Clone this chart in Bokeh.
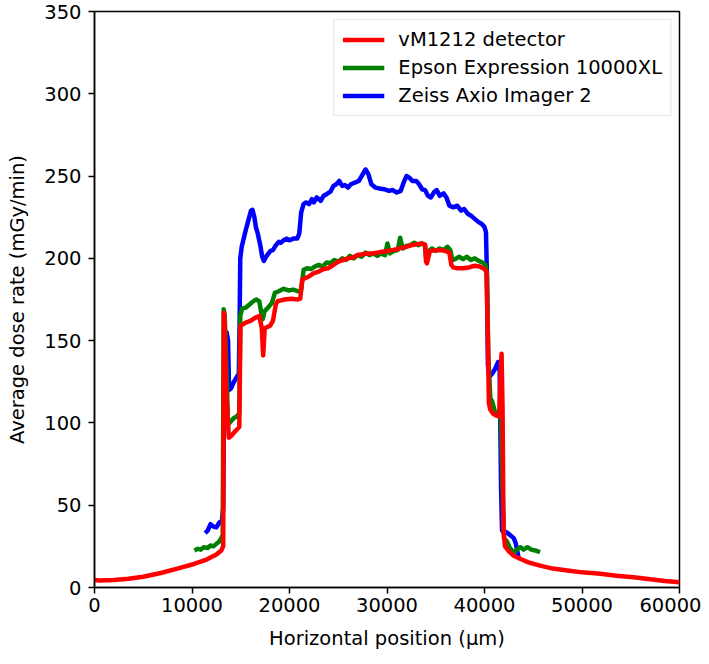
from bokeh.plotting import figure
from bokeh.models import Range1d, FixedTicker, Legend, LegendItem
from bokeh.embed import file_html
from bokeh.resources import INLINE

# ---- data ----
red_x = [0, 500, 2000, 3500, 5000, 6800, 8500, 10200, 11500, 12500, 13000, 13200, 13270, 13320,
         13500, 13780, 14000, 14300, 14600, 14850, 14970, 15500, 16000, 16500, 16900, 17150, 17300,
         17450, 17600, 18000, 18300, 18600, 18800, 19500, 20200, 20800, 21100, 21300, 21600, 22000,
         22500, 23000, 23500, 24000, 24500, 25000, 25500, 26000, 26500, 27000, 27500, 28000, 28500,
         29000, 29500, 30000, 30500, 31000, 31500, 32000, 32500, 33000, 33500, 33900, 34000, 34100,
         34400, 35000, 35500, 36000, 36400, 36600, 36800, 37200, 37800, 38400, 39000, 39500, 40000,
         40200, 40350, 40450, 40600, 40900, 41200, 41500, 41650, 41750, 41850, 41950, 42100, 42500,
         43000, 43700, 44500, 45700, 47000, 48500, 50000, 51900, 53500, 55300, 57000, 58500, 60000]
red_y = [4.5, 4.3, 4.6, 5.3, 6.5, 8.8, 11.5, 14.3, 17, 20, 22.5, 25, 167, 165,
         120, 91, 92, 94, 96, 97.5, 159, 161, 162, 164, 165, 158, 141,
         157, 158, 159, 162, 172, 174, 175, 175.5, 175, 175.5, 187, 188, 189,
         191, 192, 193.5, 194, 196, 198, 199, 200, 200.5, 202, 202.5, 203, 203,
         203.5, 204, 204.5, 205, 205.5, 206.5, 207, 208, 208.5, 209, 208.5, 198, 197,
         204.5, 205, 205, 204.5, 203.5, 196, 194.5, 194, 194, 194.5, 195.5, 195, 193.5,
         192, 150, 112, 108, 105.5, 104.5, 104, 130, 142, 110, 35, 25, 22,
         19.3, 17.3, 15.3, 13.3, 11.5, 10.3, 9.2, 8.3, 7.2, 6.2, 5, 4, 3.2]

green_x = [10250, 10600, 10900, 11200, 11600, 11900, 12200, 12500, 12800, 13000, 13150, 13250, 13350,
           13550, 13700, 14000, 14300, 14600, 14850, 14950, 15140, 15500, 15900, 16300, 16600, 16900,
           17100, 17250, 17450, 17800, 18200, 18500, 18900, 19400, 19900, 20400, 20900, 21200, 21450,
           21800, 22200, 22600, 23000, 23400, 23800, 24200, 24600, 25000, 25400, 25800, 26200, 26600,
           27000, 27400, 27800, 28200, 28600, 29000, 29400, 29800, 30050, 30300, 30700, 31100, 31350,
           31600, 32000, 32400, 32800, 33200, 33600, 33900, 34000, 34200, 34600, 35000, 35400, 35800,
           36200, 36500, 36700, 37000, 37400, 37800, 38200, 38600, 39000, 39400, 39800, 40100, 40250,
           40400, 40600, 40800, 41100, 41400, 41650, 41850, 42000, 42300, 42600, 43000, 43300, 43700,
           44000, 44400, 44800, 45200, 45700]
green_y = [22.5, 23.5, 23, 24.5, 24, 25.5, 25, 26.5, 28, 30, 32, 169, 166,
           130, 99, 101, 103, 104, 106, 165, 169.5, 170, 172, 174, 175, 174,
           167, 163, 168, 170, 173, 179, 180, 181.5, 180.5, 181, 180, 181, 193,
           194, 193.5, 195, 196, 195, 197.5, 197, 199, 198, 200, 199, 201.5, 200,
           202, 201, 203.5, 202, 203, 201.5, 203, 202, 209, 203, 204.5, 205, 212.5,
           206, 207.5, 208, 209.5, 208, 209, 208, 201, 204, 206, 204.5, 206, 205,
           207, 205, 199, 199.5, 201, 199.5, 201, 199, 200, 198.5, 197.5, 196, 190,
           140, 115, 113, 106, 104.5, 110, 60, 30, 28, 24, 21, 23, 24.5,
           23, 24.5, 23, 22.5, 21.5]

blue_x = [11350, 11600, 11900, 12200, 12500, 12800, 13050, 13200, 13350, 13550, 13700, 13800, 14000,
          14300, 14600, 14800, 14880, 14950, 15100, 15300, 15550, 15820, 16050, 16200, 16400, 16550,
          16750, 17000, 17200, 17370, 17600, 17850, 18050, 18300, 18600, 18900, 19100, 19400, 19700,
          20000, 20400, 20790, 21000, 21200, 21440, 21700, 22000, 22300, 22500, 22800, 23200, 23500,
          23800, 24200, 24500, 24800, 25100, 25400, 25700, 26000, 26300, 26700, 27100, 27400, 27800,
          28100, 28400, 28800, 29200, 29700, 30200, 30600, 31000, 31400, 31700, 32000, 32300, 32600,
          33000, 33300, 33600, 33900, 34200, 34500, 34800, 35100, 35400, 35800, 36100, 36400, 36800,
          37200, 37600, 37900, 38300, 38600, 39000, 39400, 39700, 40000, 40150, 40250, 40350, 40500,
          40800, 41100, 41400, 41550, 41700, 41800, 42100, 42400, 42700, 43000, 43200, 43500]
blue_y = [33, 34.5, 38.5, 37, 36.5, 39.5, 40, 48, 150, 155, 150, 120, 121,
          125, 128, 130, 160, 200, 207, 212, 218, 224, 229, 229.5, 225, 219,
          215, 208, 201, 198.5, 201, 203, 204.5, 205, 208, 210, 209.5, 211, 212,
          211, 212, 212, 215, 228, 233, 234, 233, 236, 234, 237, 235, 238,
          239, 240.5, 244, 245, 247, 244, 244.5, 243, 245, 246, 247, 250, 254,
          251, 245, 243, 242.5, 242, 241, 241.5, 240, 241, 246, 250, 249, 247,
          247, 245, 242, 241.5, 238, 237, 240, 241.5, 238, 239.5, 237, 232, 231,
          232, 229, 230, 227, 226, 224, 222, 221, 219, 216, 190, 135, 128,
          130, 133, 137, 135, 60, 34.5, 34, 33, 31.5, 30, 27, 18]

x_ticks = [0, 10000, 20000, 30000, 40000, 50000, 60000]
y_ticks = [0, 50, 100, 150, 200, 250, 300, 350]

series_labels = ["vM1212 detector", "Epson Expression 10000XL", "Zeiss Axio Imager 2"]

FONT = "DejaVu Sans"
FS = "19.5px"

p = figure(width=701, height=656, x_range=Range1d(0, 60000), y_range=Range1d(0, 350),
           output_backend="svg", toolbar_location=None,
           min_border_left=94, min_border_right=22, min_border_top=11, min_border_bottom=69)

rb = p.line(blue_x, blue_y, line_color="#0000ff", line_width=4.5, line_join="round")
rg = p.line(green_x, green_y, line_color="#008000", line_width=4.5, line_join="round")
rr = p.line(red_x, red_y, line_color="#ff0000", line_width=4.5, line_join="round")

p.xgrid.visible = False
p.ygrid.visible = False
p.outline_line_color = "black"
p.outline_line_width = 1.5
p.outline_line_alpha = 1.0
p.background_fill_color = "white"
p.border_fill_color = "white"

p.xaxis.ticker = FixedTicker(ticks=x_ticks)
p.yaxis.ticker = FixedTicker(ticks=y_ticks)
p.xaxis.axis_label = "Horizontal position (μm)"
p.yaxis.axis_label = "Average dose rate (mGy/min)"

for ax in (p.xaxis, p.yaxis):
    ax.axis_line_width = 1.5
    ax.axis_line_color = "black"
    ax.major_tick_line_width = 1.5
    ax.major_tick_out = 6
    ax.major_tick_in = 0
    ax.minor_tick_line_color = None
    ax.major_label_text_font = FONT
    ax.major_label_text_font_size = FS
    ax.major_label_text_color = "black"
    ax.axis_label_text_font = FONT
    ax.axis_label_text_font_size = FS
    ax.axis_label_text_font_style = "normal"
    ax.axis_label_text_color = "black"
p.xaxis.major_label_standoff = 4
p.yaxis.major_label_standoff = 7
p.xaxis.axis_label_standoff = 12
p.yaxis.axis_label_standoff = 12

legend = Legend(items=[LegendItem(label=series_labels[0], renderers=[rr]),
                       LegendItem(label=series_labels[1], renderers=[rg]),
                       LegendItem(label=series_labels[2], renderers=[rb])],
                location="top_right")
legend.label_text_font = FONT
legend.label_text_font_size = FS
legend.label_text_color = "black"
legend.glyph_width = 42
legend.glyph_height = 21
legend.label_height = 21
legend.label_standoff = 14
legend.spacing = 5
legend.padding = 8
legend.margin = 8
legend.border_line_color = "#cccccc"
legend.border_line_width = 1
legend.background_fill_alpha = 0.8
p.add_layout(legend)

open("out.html", "w").write(file_html(p, INLINE))
